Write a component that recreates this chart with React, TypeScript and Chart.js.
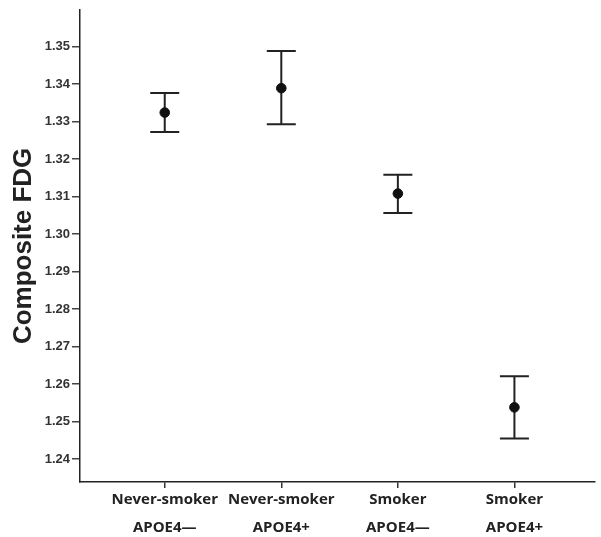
import React, { useEffect, useRef } from "react";
import { Chart, registerables } from "chart.js";

Chart.register(...registerables);

const categories: string[][] = [
  ["Never-smoker", "APOE4—"],
  ["Never-smoker", "APOE4+"],
  ["Smoker", "APOE4—"],
  ["Smoker", "APOE4+"],
];
const means = [1.3324, 1.3389, 1.3108, 1.2538];
const upper = [1.3376, 1.3488, 1.3158, 1.2621];
const lower = [1.3272, 1.3293, 1.3056, 1.2455];
const yTicks = [1.24, 1.25, 1.26, 1.27, 1.28, 1.29, 1.3, 1.31, 1.32, 1.33, 1.34, 1.35];
const yTitle = "Composite FDG";

const errorBarPlugin = {
  id: "errorBars",
  beforeDatasetsDraw(chart: any) {
    const { ctx, scales } = chart;
    const xs = scales.x;
    const ys = scales.y;
    ctx.save();
    ctx.strokeStyle = "#222";
    ctx.lineWidth = 2;
    const half = 14.5;
    for (let i = 0; i < means.length; i++) {
      const x = xs.getPixelForValue(i);
      const yt = ys.getPixelForValue(upper[i]);
      const yb = ys.getPixelForValue(lower[i]);
      ctx.beginPath();
      ctx.moveTo(x, yt);
      ctx.lineTo(x, yb);
      ctx.moveTo(x - half, yt);
      ctx.lineTo(x + half, yt);
      ctx.moveTo(x - half, yb);
      ctx.lineTo(x + half, yb);
      ctx.stroke();
    }
    ctx.restore();
  },
};

export default function App() {
  const ref = useRef<HTMLCanvasElement | null>(null);
  useEffect(() => {
    document.body.style.margin = "0";
    if (!ref.current) return;
    const chart = new Chart(ref.current, {
      type: "scatter",
      data: {
        datasets: [
          {
            data: means.map((m, i) => ({ x: i, y: m })),
            backgroundColor: "#111",
            borderColor: "#111",
            pointRadius: 4.8,
            pointHoverRadius: 4.8,
          },
        ],
      },
      options: {
        animation: false,
        responsive: false,
        devicePixelRatio: 1,
        layout: { padding: { left: 0, right: 0, top: 8, bottom: 0 } },
        plugins: { legend: { display: false }, tooltip: { enabled: false } },
        scales: {
          x: {
            type: "linear",
            min: -0.727,
            max: 3.693,
            afterBuildTicks: (s: any) => {
              s.ticks = categories.map((_, i) => ({ value: i }));
            },
            afterFit: (s: any) => {
              s.height = 55;
            },
            ticks: {
              autoSkip: false,
              maxRotation: 0,
              padding: -2,
              color: "#222",
              font: { family: "'Open Sans'", size: 15, weight: "bold", lineHeight: "28px" },
              callback: (v: any) => categories[v as number] ?? "",
            },
            grid: { drawOnChartArea: false, drawTicks: true, tickLength: 6, color: "#333", lineWidth: 1.5 },
            border: { display: true, color: "#222", width: 1.5 },
          },
          y: {
            type: "linear",
            min: 1.2339,
            max: 1.3598,
            afterBuildTicks: (s: any) => {
              s.ticks = yTicks.map((v) => ({ value: v }));
            },
            afterFit: (s: any) => {
              s.width = 80;
            },
            ticks: {
              padding: 2,
              color: "#333",
              font: { family: "'Liberation Sans', Arial", size: 13, weight: "bold" },
              callback: (v: any) => Number(v).toFixed(2),
            },
            grid: { drawOnChartArea: false, drawTicks: true, tickLength: 8, color: "#444", lineWidth: 1.5 },
            border: { display: true, color: "#222", width: 1.5 },
            title: {
              display: true,
              text: yTitle,
              color: "#222",
              padding: { top: 8, bottom: 0 },
              font: { family: "'Liberation Sans', Arial", size: 26, weight: "bold", lineHeight: 1.2 },
            },
          },
        },
      },
      plugins: [errorBarPlugin],
    });
    return () => chart.destroy();
  }, []);
  return (
    <div style={{ width: 601, height: 537 }}>
      <canvas ref={ref} width={601} height={537} style={{ display: "block" }} />
    </div>
  );
}
